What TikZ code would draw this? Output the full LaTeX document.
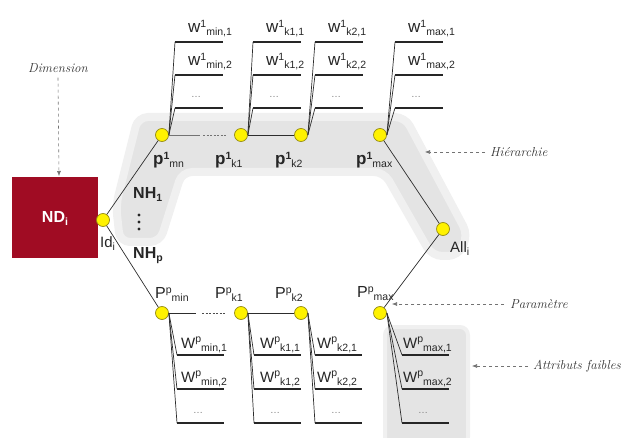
\documentclass[tikz,border=0pt]{standalone}
\usepackage{fontspec}
\newfontfamily\arialf{Liberation Sans}
\usetikzlibrary{arrows.meta}
\definecolor{ndred}{RGB}{160,12,35}
\definecolor{bandgray}{RGB}{228,228,228}
\definecolor{bandsoft}{RGB}{240,240,240}
\definecolor{linecol}{RGB}{45,45,45}
\definecolor{dotedge}{RGB}{150,140,20}
\definecolor{annot}{RGB}{50,50,50}
\newcommand\mysup[1]{\raisebox{5.5bp}{\fontsize{10.5bp}{10.5bp}\selectfont #1}}
\newcommand\mysub[1]{\raisebox{-3bp}{\fontsize{10.5bp}{10.5bp}\selectfont #1}}
\newcommand\wtop[1]{{\fontsize{17bp}{17bp}\selectfont w\mysup{1}\mysub{#1}}}
\newcommand\wbot[1]{{\fontsize{15bp}{15bp}\selectfont W\mysup{p}\mysub{#1}}}
\newcommand\ptop[1]{{\fontsize{17bp}{17bp}\selectfont\bfseries p\mysup{1}\mdseries\mysub{#1}}}
\newcommand\pbot[1]{{\fontsize{16bp}{16bp}\selectfont P\mysup{p}\mysub{#1}}}
\begin{document}
\begin{tikzpicture}[x=1bp,y=-1bp,
  every node/.style={font=\arialf, inner sep=0pt, text=black!85},
  dot/.style={circle, draw=dotedge, fill=yellow, minimum size=13bp, line width=0.7bp},
  conn/.style={draw=linecol, line width=0.7bp},
  wline/.style={draw=black!85, line width=1.2bp},
  lab/.style={anchor=base west},
  ell/.style={anchor=base west, text=black!50, font=\arialf\fontsize{10bp}{10bp}\selectfont},
  note/.style={font=\itshape\fontsize{13bp}{13bp}\selectfont, text=annot},
  notearrow/.style={draw=black!55, dashed, line width=0.6bp, -{Latex[length=5bp,width=4bp]}},
  ndbox/.style={draw=none, fill=ndred, minimum width=86bp, minimum height=81bp, text=white, font=\arialf\bfseries\fontsize{16bp}{16bp}\selectfont}
]
\useasboundingbox (0,0) rectangle (625,438);
% grey bands (soft edge, then core)
\filldraw[fill=bandgray, draw=bandsoft, line width=8bp, rounded corners=10bp] (138,117) -- (405,117) -- (468,235) -- (458,256) -- (432,256) -- (384,172) -- (182,172) -- (160,242) -- (120,242) -- (116,205) -- cycle;
\filldraw[fill=bandgray, draw=bandsoft, line width=4bp, rounded corners=8bp] (385,327) rectangle (468,445);

% main nodes
\node[ndbox] (nd) at (55,218) {ND\mysub{i}};
\node[dot] (id) at (103,220) {};
\node[dot] (p1min) at (162,135) {};
\node[dot] (p1k1) at (241,135) {};
\node[dot] (p1k2) at (301,135) {};
\node[dot] (p1max) at (380,135) {};
\node[dot] (all) at (443,229) {};
\node[dot] (ppmin) at (162,313) {};
\node[dot] (ppk1) at (241,313) {};
\node[dot] (ppk2) at (301,313) {};
\node[dot] (ppmax) at (380,313) {};

% connectors
\draw[conn] (id) -- (p1min);
\draw[conn] (id) -- (ppmin);
\draw[conn] (p1max) -- (all);
\draw[conn] (all) -- (ppmax);
\coordinate (ta) at (200,135); \coordinate (tb) at (203,135); \coordinate (tc) at (226,135);
\draw[conn, draw=black!55] (p1min) -- (ta);
\draw[dash pattern=on 2bp off 1.5bp, draw=black!55, line width=0.7bp] (tb) -- (tc);
\draw[conn] (p1k1) -- (p1k2);
\coordinate (ba) at (196,313); \coordinate (bb) at (202,313); \coordinate (bc) at (226,313);
\draw[conn, line width=1bp] (ppmin) -- (ba);
\draw[dash pattern=on 2bp off 1.5bp, draw=black!70, line width=0.8bp] (bb) -- (bc);
\draw[conn, line width=1bp] (ppk1) -- (ppk2);

% top attribute lines
\foreach \n/\x/\o/\a/\b in {p1min/162/13/{min,1}/{min,2}, p1k1/241/12/{k1,1}/{k1,2}, p1k2/301/14/{k2,1}/{k2,2}, p1max/380/15/{max,1}/{max,2}}{
  \foreach \y [count=\j] in {42,75,108}{
    \coordinate (\n-w\j) at (\x+\o,\y);
    \draw[conn] (\n.east) -- (\n-w\j);
    \draw[wline] (\n-w\j) -- ++(48,0);
  }
  \node[lab] (\n-l1) at (\x+\o+13,33) {\wtop{\a}};
  \node[lab] (\n-l2) at (\x+\o+13,66) {\wtop{\b}};
  \node[ell] (\n-l3) at (\x+\o+16,98) {\dots};
}

% bottom attribute lines
\foreach \n/\x/\o/\s/\a/\b in {ppmin/162/15/4/{min,1}/{min,2}, ppk1/241/13/6/{k1,1}/{k1,2}, ppk2/301/14/2/{k2,1}/{k2,2}, ppmax/380/22/1/{max,1}/{max,2}}{
  \foreach \y [count=\j] in {355,389,423}{
    \coordinate (\n-w\j) at (\x+\o,\y);
    \draw[conn] (\n.east) -- (\n-w\j);
    \draw[wline] (\n-w\j) -- ++(47,0);
  }
  \node[lab] (\n-l1) at (\x+\o+\s,348) {\wbot{\a}};
  \node[lab] (\n-l2) at (\x+\o+\s,382) {\wbot{\b}};
  \node[ell] (\n-l3) at (\x+\o+16,413) {\dots};
}

% node labels
\node[lab] (lp1min) at (153,165) {\ptop{mn}};
\node[lab] (lp1k1) at (215,165) {\ptop{k1}};
\node[lab] (lp1k2) at (275,165) {\ptop{k2}};
\node[lab] (lp1max) at (356,165) {\ptop{max}};
\node[lab] (lppmin) at (155,299) {\pbot{min}};
\node[lab] (lppk1) at (215,299) {\pbot{k1}};
\node[lab] (lppk2) at (275,299) {\pbot{k2}};
\node[lab] (lppmax) at (357,298) {\pbot{max}};
\node[lab, font=\arialf\bfseries\fontsize{16bp}{16bp}\selectfont] (nh1) at (133,199) {NH\mysub{1}};
\node[lab, font=\arialf\bfseries\fontsize{16bp}{16bp}\selectfont] (nhp) at (133,259) {NH\mysub{p}};
\fill[black!85] (139,215) circle (1.6bp) (139,222) circle (1.6bp) (139,229) circle (1.6bp);
\node[lab, font=\arialf\fontsize{15bp}{15bp}\selectfont] (lid) at (100,248) {Id\mysub{i}};
\node[lab, font=\arialf\fontsize{15bp}{15bp}\selectfont] (lall) at (450,253) {All\mysub{i}};

% annotations
\node[note] (dim) at (58,68) {Dimension};
\coordinate (dimend) at (59,176);
\draw[notearrow] (dim.south) ++(0,-5bp) -- (dimend);
\node[note, anchor=west] (hier) at (490,152) {Hiérarchie};
\coordinate (hierend) at (425,152);
\draw[notearrow] (hier.west) ++(-5bp,0) -- (hierend);
\node[note, anchor=west] (param) at (510,304) {Paramètre};
\coordinate (paramend) at (392,304);
\draw[notearrow] (param.west) ++(-6bp,0) -- (paramend);
\node[note, anchor=west] (attr) at (533,366) {Attributs faibles};
\coordinate (attrend) at (472,366);
\draw[notearrow] (attr.west) ++(-5bp,0) -- (attrend);
\end{tikzpicture}
\end{document}
